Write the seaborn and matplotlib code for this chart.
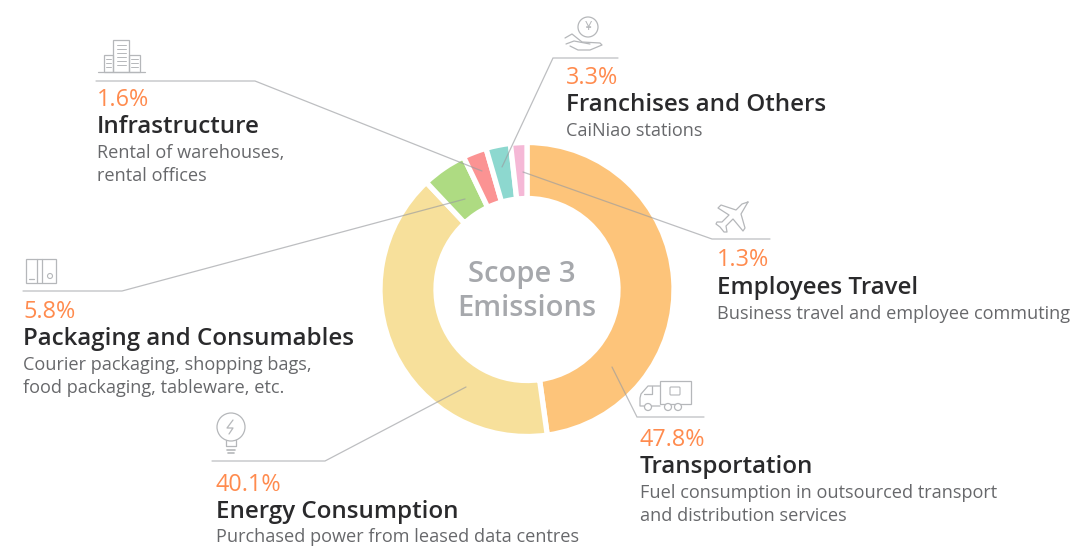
import matplotlib
matplotlib.use('Agg')
import matplotlib.pyplot as plt
import seaborn as sns
from matplotlib.patches import Circle, Rectangle, FancyBboxPatch

# Data
labels = ['Transportation', 'Energy Consumption', 'Packaging and Consumables',
          'Infrastructure', 'Franchises and Others', 'Employees Travel']
shares = [47.8, 40.1, 5.8, 1.6, 3.3, 1.3]
# The ring is not drawn to the printed numbers: these are the arcs as they look in the picture
arc_shares = [47.8, 40.2, 4.9, 2.6, 2.7, 1.8]
colours = ['#FDC47A', '#F7E09B', '#AEDB82', '#FB9393', '#8DD8CF', '#F5B8D6']
details = [['Fuel consumption in outsourced transport', 'and distribution services'],
           ['Purchased power from leased data centres'],
           ['Courier packaging, shopping bags,', 'food packaging, tableware, etc.'],
           ['Rental of warehouses,', 'rental offices'],
           ['CaiNiao stations'],
           ['Business travel and employee commuting']]

# Label layout: text x, baselines of percent / title / first detail line
text_pos = [(640, 446, 473, 498), (216, 491, 518, 542), (23, 318, 345, 370),
            (97, 106, 133, 158), (566, 84, 111, 136), (717, 266, 294, 319)]
# Leader lines from the label to the wedge
leaders = [[(704, 417), (637, 417), (612, 367)],
           [(212, 461), (325, 461), (466, 387)],
           [(23, 291), (122, 291), (465, 199)],
           [(96, 81), (255, 81), (482, 171)],
           [(618, 58), (553, 58), (502, 167)],
           [(770, 239), (712, 239), (523, 172)]]

GREY = '#b5b7ba'
sns.set_theme(style='white')
plt.rcParams['font.family'] = ['Open Sans', 'DejaVu Sans']

fig = plt.figure(figsize=(10.78, 5.47), dpi=100)
ax = fig.add_axes([0, 0, 1, 1])

# y is flipped below, so a start of -90 puts the first wedge at 12 o'clock going clockwise
ax.pie(arc_shares, colors=sns.color_palette(colours), center=(527, 289.5), radius=147,
       startangle=-90, counterclock=True,
       wedgeprops=dict(width=56, edgecolor='white', linewidth=3.8))
ax.set_xlim(0, 1078)
ax.set_ylim(547, 0)
ax.set_aspect('equal')

for pts in leaders:
    ax.plot([p[0] for p in pts], [p[1] for p in pts], color='#9a9ca0', lw=0.9, alpha=0.65,
            solid_joinstyle='miter', zorder=4)

for lab, share, det, (x, y0, y1, y2) in zip(labels, shares, details, text_pos):
    ax.text(x, y0, f'{share}%', color='#FF8B4E', fontsize=16.8, va='baseline')
    ax.text(x, y1, lab, color='#2a2a2c', fontsize=17.4, fontweight='semibold', va='baseline')
    for i, txt in enumerate(det):
        ax.text(x, y2 + i * 23, txt, color='#67686b', fontsize=13.1, va='baseline')

ax.text(522, 282, 'Scope 3', color='#a6a8ac', fontsize=21, fontweight='semibold',
        ha='center', va='baseline')
ax.text(527, 316, 'Emissions', color='#a6a8ac', fontsize=21, fontweight='semibold',
        ha='center', va='baseline')


# Small outline icons
def line(xs, ys, lw=0.9):
    ax.plot(xs, ys, color=GREY, lw=lw, solid_capstyle='round')


def box(x, y, w, h, lw=0.9):
    ax.add_patch(Rectangle((x, y), w, h, fill=False, ec=GREY, lw=lw))


# Building
line([98, 145], [72, 72])
box(113, 40, 16, 32)
box(104, 55, 9, 17)
box(129, 55, 11, 17)
for yy in range(45, 66, 4):
    line([117, 126], [yy, yy], lw=0.7)
for yy in range(59, 71, 4):
    line([106, 111], [yy, yy], lw=0.7)
    line([131, 138], [yy, yy], lw=0.7)

# Packaging cabinet
box(26, 259, 30, 24)
line([37, 37], [259, 283])
line([42, 42], [259, 283])
line([29, 34], [279, 279])
ax.add_patch(Circle((50, 276), 2.5, fill=False, ec=GREY, lw=0.8))

# Yen in a hand
ax.add_patch(Circle((588, 27), 10, fill=False, ec=GREY, lw=0.9))
ax.text(588, 27, '¥', color=GREY, fontsize=9, ha='center', va='center')
line([565, 572, 582, 600, 602, 590, 578, 570],
     [38, 34, 42, 43, 45, 50, 50, 46])
line([566, 574, 590], [44, 41, 44])

# Plane
line([748, 741, 745, 743, 733, 726, 727, 724, 720, 716, 717, 722, 729, 718, 721, 736, 742, 748],
     [202, 214, 228, 231, 219, 226, 232, 232, 227, 224, 222, 222, 215, 208, 205, 210, 204, 202])

# Truck
box(660, 381, 31, 23)
line([660, 648, 641, 640, 640, 660], [386, 386, 394, 398, 406, 406])
line([644, 652, 652], [394, 394, 386])
for cx in [648, 668, 678]:
    ax.add_patch(Circle((cx, 407), 3.5, fc='white', ec=GREY, lw=0.9, zorder=3))
ax.add_patch(FancyBboxPatch((671, 388), 8, 6, boxstyle='round,pad=1', fill=False, ec=GREY, lw=0.8))

# Light bulb
ax.add_patch(Circle((231, 427), 14, fill=False, ec=GREY, lw=0.9))
line([226, 226, 236, 236], [440, 446, 446, 440])
line([227, 235], [450, 450], lw=1.2)
line([228, 234], [453, 453], lw=1.2)
line([233, 227, 233, 229], [420, 428, 428, 434])

ax.axis('off')
fig.savefig('out.png', dpi=100, facecolor='white')
